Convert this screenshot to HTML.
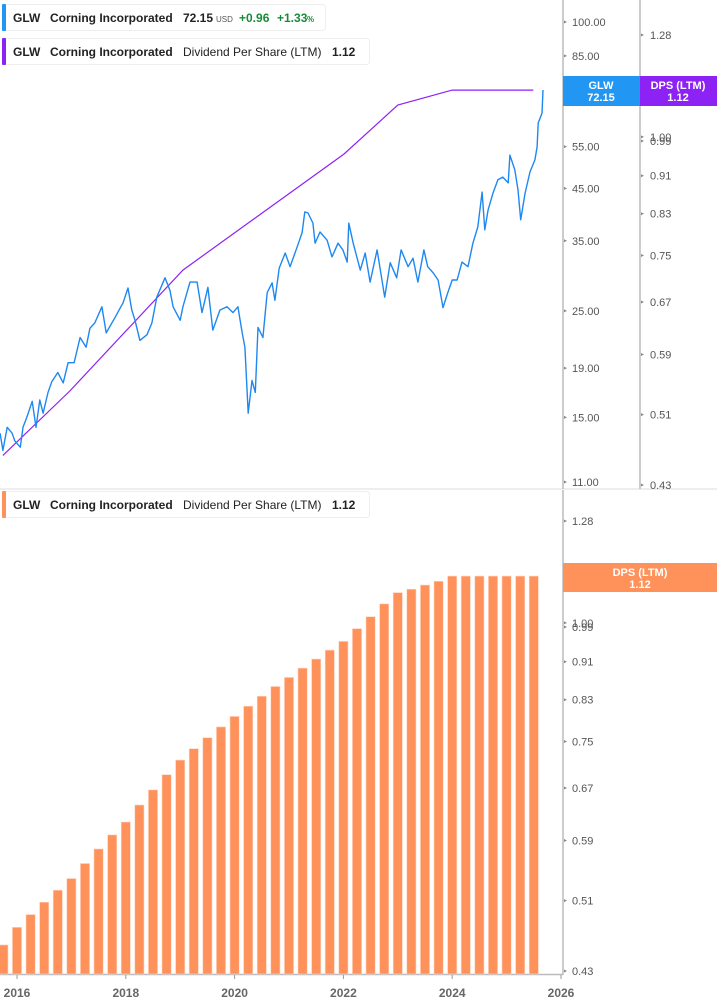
<!DOCTYPE html>
<html><head><meta charset="utf-8"><style>
html,body{margin:0;padding:0;background:#fff;}
svg{display:block;font-family:"Liberation Sans",sans-serif;}
</style></head><body>
<svg id="chart" width="717" height="1005" viewBox="0 0 717 1005">
<g id="gridlayer"></g>
<g id="marks"></g>
<g id="labels"></g>
</svg>
<script>
const priceDates=[2015.69,2015.74,2015.82,2015.91,2015.96,2016.06,2016.11,2016.18,2016.28,2016.35,2016.42,2016.48,2016.57,2016.64,2016.75,2016.85,2016.94,2017.05,2017.16,2017.27,2017.34,2017.43,2017.56,2017.64,2017.80,2017.95,2018.04,2018.11,2018.17,2018.26,2018.39,2018.48,2018.57,2018.72,2018.81,2018.87,2019.00,2019.05,2019.18,2019.31,2019.40,2019.51,2019.60,2019.73,2019.86,2019.97,2020.06,2020.14,2020.19,2020.25,2020.32,2020.38,2020.43,2020.52,2020.60,2020.69,2020.74,2020.82,2020.93,2021.02,2021.15,2021.24,2021.29,2021.35,2021.44,2021.48,2021.57,2021.70,2021.79,2021.90,2021.99,2022.07,2022.10,2022.18,2022.31,2022.40,2022.49,2022.62,2022.67,2022.76,2022.86,2022.98,2023.06,2023.19,2023.28,2023.37,2023.48,2023.55,2023.65,2023.74,2023.83,2023.92,2024.00,2024.09,2024.18,2024.29,2024.38,2024.47,2024.55,2024.60,2024.66,2024.75,2024.84,2024.93,2025.03,2025.06,2025.15,2025.21,2025.26,2025.34,2025.43,2025.52,2025.56,2025.58,2025.65,2025.67];
const priceValues=[13.9,12.8,14.3,13.9,13.4,13.0,14.3,15.0,16.2,14.3,16.3,15.3,16.9,17.8,18.6,17.7,19.5,19.5,22.0,21.0,23.0,23.6,25.5,22.5,24.2,26.0,27.9,25.1,23.9,21.7,22.3,23.6,26.7,29.3,27.6,25.5,23.9,25.5,28.7,28.7,24.8,28.0,22.8,25.1,25.5,24.8,25.5,22.5,21.0,15.3,17.9,16.9,23.1,22.0,27.3,28.6,26.3,30.7,33.0,30.9,34.0,36.4,40.2,40.0,38.1,34.6,36.5,35.1,32.4,34.6,33.5,31.6,38.1,34.6,30.4,33.0,28.7,33.5,30.9,26.7,31.5,29.3,33.5,30.9,32.2,28.7,33.5,30.9,30.0,29.0,25.4,27.3,29.0,29.0,31.6,30.9,34.6,37.4,44.2,36.9,40.6,44.0,46.9,47.5,46.2,52.8,49.2,44.7,38.7,44.0,48.7,51.6,54.9,61.6,64.6,72.15];
const dpsLineDates=[2015.74,2016.97,2019.05,2022.01,2023.0,2024.0,2025.49];
const dpsLineValues=[0.462,0.540,0.724,0.959,1.080,1.12,1.12];
const barDates=[2015.75,2016.0,2016.25,2016.5,2016.75,2017.0,2017.25,2017.5,2017.75,2018.0,2018.25,2018.5,2018.75,2019.0,2019.25,2019.5,2019.75,2020.0,2020.25,2020.5,2020.75,2021.0,2021.25,2021.5,2021.75,2022.0,2022.25,2022.5,2022.75,2023.0,2023.25,2023.5,2023.75,2024.0,2024.25,2024.5,2024.75,2025.0,2025.25,2025.5];
const barValues=[0.458,0.478,0.493,0.508,0.523,0.538,0.558,0.578,0.598,0.617,0.643,0.667,0.692,0.717,0.737,0.757,0.777,0.797,0.817,0.837,0.857,0.876,0.896,0.916,0.936,0.956,0.986,1.015,1.047,1.076,1.085,1.096,1.106,1.12,1.12,1.12,1.12,1.12,1.12,1.12];
const priceTicks=[100,85,70,55,45,35,25,19,15,11];
const priceTickLabels=["100.00","85.00","70.00","55.00","45.00","35.00","25.00","19.00","15.00","11.00"];
const dpsTicks=[1.28,1.14,1.00,0.99,0.91,0.83,0.75,0.67,0.59,0.51,0.43];
const dpsTickLabels=["1.28","1.14","1.00","0.99","0.91","0.83","0.75","0.67","0.59","0.51","0.43"];
const yearTicks=[2016,2018,2020,2022,2024,2026];

const NS="http://www.w3.org/2000/svg";
const X=t=>17+(t-2016)*54.4;
const YP=p=>22+208.4*Math.log(100/p);
const YDt=v=>35+412.5*Math.log(1.28/v);
const YDb=v=>521+412.5*Math.log(1.28/v);
function mk(tag,parent,attrs){const e=document.createElementNS(NS,tag);for(const k in attrs)e.setAttribute(k,attrs[k]);parent.appendChild(e);return e;}
const G=document.getElementById('gridlayer'),M=document.getElementById('marks'),L=document.getElementById('labels');

// panel divider and axis lines
let e;
e=mk('line',G,{x1:0,y1:489,x2:717,y2:489,stroke:'#ddd','stroke-width':1});

e=mk('line',G,{x1:563,y1:0,x2:563,y2:489,stroke:'#bbb','stroke-width':1.5});

e=mk('line',G,{x1:640,y1:0,x2:640,y2:489,stroke:'#bbb','stroke-width':1.5});

e=mk('line',G,{x1:563,y1:490,x2:563,y2:975,stroke:'#bbb','stroke-width':1.5});

e=mk('line',G,{x1:0,y1:974.5,x2:563,y2:974.5,stroke:'#bbb','stroke-width':1.5});


// bars
barDates.forEach((d,i)=>{const y=YDb(barValues[i]);
 const r=mk('rect',M,{x:X(d)-4.6,y:y,width:9.2,height:974-y,fill:'#ff915a',stroke:'#ffd6c2','stroke-width':0.6});
 });

// dps line
let pts=dpsLineDates.map((d,i)=>X(d).toFixed(1)+','+YDt(dpsLineValues[i]).toFixed(1)).join(' ');
e=mk('polyline',M,{points:pts,fill:'none',stroke:'#8d22f5','stroke-width':1.2});

// price line
pts=priceDates.map((d,i)=>X(d).toFixed(1)+','+YP(priceValues[i]).toFixed(1)).join(' ');
e=mk('polyline',M,{points:pts,fill:'none',stroke:'#1e88f0','stroke-width':1.4,'stroke-linejoin':'round'});


function txt(parent,x,y,s,opts){const t=mk('text',parent,Object.assign({x:x,y:y,'font-size':11,fill:'#555'},opts||{}));t.textContent=s;return t;}
// price ticks
priceTicks.forEach((v,i)=>{const y=YP(v);
 const t=txt(L,572,y+4,priceTickLabels[i]);
 const m=mk('path',L,{d:`M564 ${y-1.5} L567 ${y} L564 ${y+1.5}Z`,fill:'#888'});});
// dps ticks top and bottom
dpsTicks.forEach((v,i)=>{
 let y=YDt(v);
 let t=txt(L,650,y+4,dpsTickLabels[i]);
 let m=mk('path',L,{d:`M641 ${y-1.5} L644 ${y} L641 ${y+1.5}Z`,fill:'#888'});
 y=YDb(v);
 t=txt(L,572,y+4,dpsTickLabels[i]);
 m=mk('path',L,{d:`M564 ${y-1.5} L567 ${y} L564 ${y+1.5}Z`,fill:'#888'});});
// year ticks
yearTicks.forEach(yv=>{const x=X(yv);
 const m=mk('line',L,{x1:x,y1:975,x2:x,y2:979,stroke:'#999'});
 const t=txt(L,x,997,String(yv),{'text-anchor':'middle','font-size':12,'font-weight':'bold',fill:'#666'});});
</script>
<svg width="717" height="1005" style="position:absolute;left:0;top:0">
<g font-family="Liberation Sans, sans-serif">
 <g>
  <rect x="563" y="76" width="77" height="30" fill="#2196f3"/>
  <text x="601" y="89" text-anchor="middle" fill="#fff" font-size="11" font-weight="bold">GLW</text>
  <text x="601" y="101" text-anchor="middle" fill="#fff" font-size="11" font-weight="bold">72.15</text>
 </g>
 <g>
  <rect x="640" y="76" width="77" height="30" fill="#8d22f5"/>
  <text x="678" y="89" text-anchor="middle" fill="#fff" font-size="11" font-weight="bold">DPS (LTM)</text>
  <text x="678" y="101" text-anchor="middle" fill="#fff" font-size="11" font-weight="bold">1.12</text>
 </g>
 <g>
  <rect x="563" y="563" width="154" height="29" fill="#ff915a"/>
  <text x="640" y="576" text-anchor="middle" fill="#fff" font-size="11" font-weight="bold">DPS (LTM)</text>
  <text x="640" y="588" text-anchor="middle" fill="#fff" font-size="11" font-weight="bold">1.12</text>
 </g>
 <g>
  <rect x="2.5" y="4.5" width="323" height="26" rx="3" fill="#fff" stroke="#eee"/>
  <rect x="2" y="4" width="4" height="27" rx="1" fill="#2196f3"/>
  <text x="13" y="22" font-size="12" font-weight="bold" fill="#222">GLW</text>
  <text x="50" y="22" font-size="12" font-weight="bold" fill="#222">Corning Incorporated</text>
  <text x="183" y="22" font-size="12" font-weight="bold" fill="#222">72.15</text>
  <text x="216" y="22" font-size="8" fill="#555">USD</text>
  <text x="239" y="22" font-size="12" font-weight="bold" fill="#1a8a3a">+0.96</text>
  <text x="277" y="22" font-size="12" font-weight="bold" fill="#1a8a3a">+1.33</text>
  <text x="307" y="22" font-size="8" font-weight="bold" fill="#1a8a3a">%</text>
 </g>
 <g>
  <rect x="2.5" y="38.5" width="367" height="26" rx="3" fill="#fff" stroke="#eee"/>
  <rect x="2" y="38" width="4" height="27" rx="1" fill="#8d22f5"/>
  <text x="13" y="56" font-size="12" font-weight="bold" fill="#222">GLW</text>
  <text x="50" y="56" font-size="12" font-weight="bold" fill="#222">Corning Incorporated</text>
  <text x="183" y="56" font-size="12" fill="#222">Dividend Per Share (LTM)</text>
  <text x="332" y="56" font-size="12" font-weight="bold" fill="#222">1.12</text>
 </g>
 <g>
  <rect x="2.5" y="491.5" width="367" height="26" rx="3" fill="#fff" stroke="#eee"/>
  <rect x="2" y="491" width="4" height="27" rx="1" fill="#ff915a"/>
  <text x="13" y="509" font-size="12" font-weight="bold" fill="#222">GLW</text>
  <text x="50" y="509" font-size="12" font-weight="bold" fill="#222">Corning Incorporated</text>
  <text x="183" y="509" font-size="12" fill="#222">Dividend Per Share (LTM)</text>
  <text x="332" y="509" font-size="12" font-weight="bold" fill="#222">1.12</text>
 </g>
</g>
</svg>
</body></html>
